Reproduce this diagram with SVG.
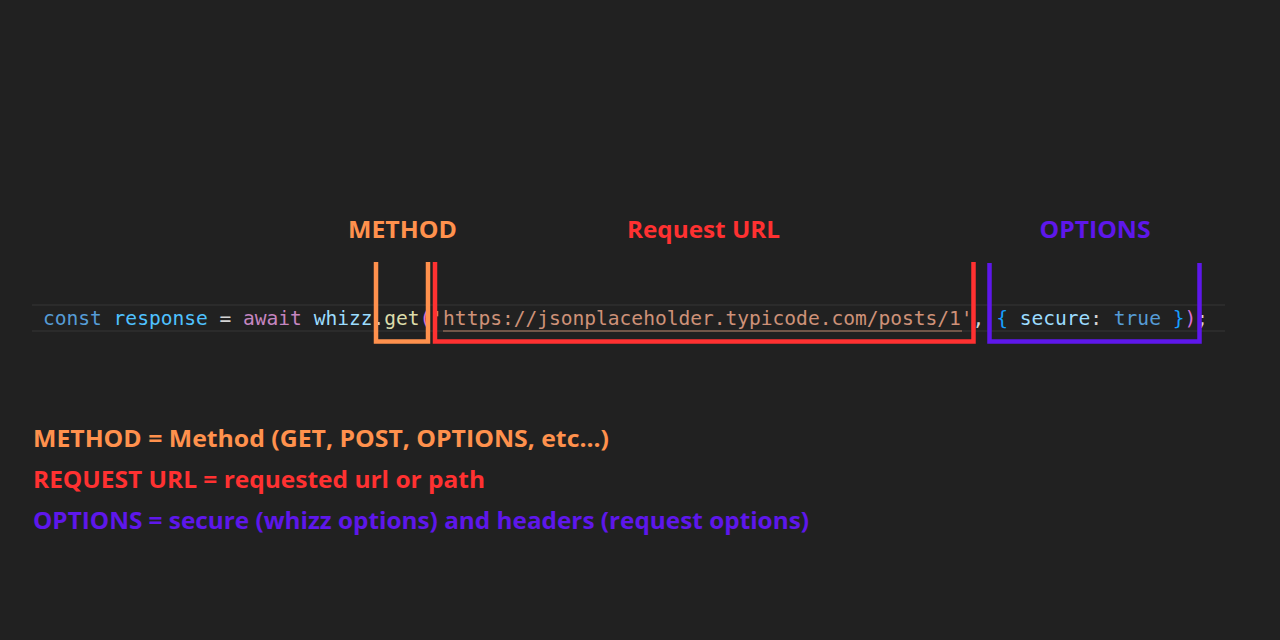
<svg xmlns="http://www.w3.org/2000/svg" width="1280" height="640" viewBox="0 0 1280 640">
<style>
.lbl{font-family:"Open Sans","Liberation Sans",sans-serif;font-weight:700;font-size:24px}
.code{font-family:"DejaVu Sans Mono","Liberation Mono",monospace;font-size:19.6px}
.or{fill:#FF914D}.rd{fill:#FF3131}.pu{fill:#5E17EB}
.br{fill:none;stroke-width:4.5;stroke-linejoin:miter;stroke-linecap:butt}
</style>
<rect width="1280" height="640" fill="#212121"/>
<g id="code-line">
  <line x1="32" y1="305" x2="1225" y2="305" stroke="#2b2b2b" stroke-width="2"/>
  <line x1="32" y1="331" x2="1225" y2="331" stroke="#2b2b2b" stroke-width="2"/>
  <text class="code" x="43" y="325" xml:space="preserve" textLength="1165" lengthAdjust="spacing"><tspan fill="#569CD6">const</tspan> <tspan fill="#4FC1FF">response</tspan> <tspan fill="#D4D4D4">=</tspan> <tspan fill="#C586C0">await</tspan> <tspan fill="#9CDCFE">whizz</tspan><tspan fill="#D4D4D4">.</tspan><tspan fill="#DCDCAA">get</tspan><tspan fill="#DA70D6">(</tspan><tspan fill="#CE9178">'https://jsonplaceholder.typicode.com/posts/1'</tspan><tspan fill="#D4D4D4">,</tspan> <tspan fill="#179FFF">{</tspan> <tspan fill="#9CDCFE">secure</tspan><tspan fill="#D4D4D4">:</tspan> <tspan fill="#569CD6">true</tspan> <tspan fill="#179FFF">}</tspan><tspan fill="#DA70D6">)</tspan><tspan fill="#D4D4D4">;</tspan></text>
  <line x1="443" y1="331" x2="962" y2="331" stroke="#B98468" stroke-width="1.2"/>
</g>
<g id="connectors">
  <path id="bracket-method" class="br" stroke="#FF914D" d="M376,262 V341.5 H428 V262"/>
  <path id="bracket-url" class="br" stroke="#FF3131" d="M435,262 V341.5 H973.5 V262"/>
  <path id="bracket-options" class="br" stroke="#5E17EB" d="M989.5,263 V341.5 H1199.5 V263"/>
</g>
<g id="label-method"><text class="lbl or" x="402.5" y="238" text-anchor="middle" textLength="109" lengthAdjust="spacingAndGlyphs">METHOD</text></g>
<g id="label-url"><text class="lbl rd" x="703.5" y="238" text-anchor="middle" textLength="153" lengthAdjust="spacingAndGlyphs">Request URL</text></g>
<g id="label-options"><text class="lbl pu" x="1095" y="238" text-anchor="middle" textLength="111" lengthAdjust="spacingAndGlyphs">OPTIONS</text></g>
<g id="legend">
  <text class="lbl or" x="33" y="447" textLength="576" lengthAdjust="spacingAndGlyphs">METHOD = Method (GET, POST, OPTIONS, etc...)</text>
  <text class="lbl rd" x="33" y="488" textLength="452" lengthAdjust="spacingAndGlyphs">REQUEST URL = requested url or path</text>
  <text class="lbl pu" x="33" y="529" textLength="776" lengthAdjust="spacingAndGlyphs">OPTIONS = secure (whizz options) and headers (request options)</text>
</g>
</svg>
